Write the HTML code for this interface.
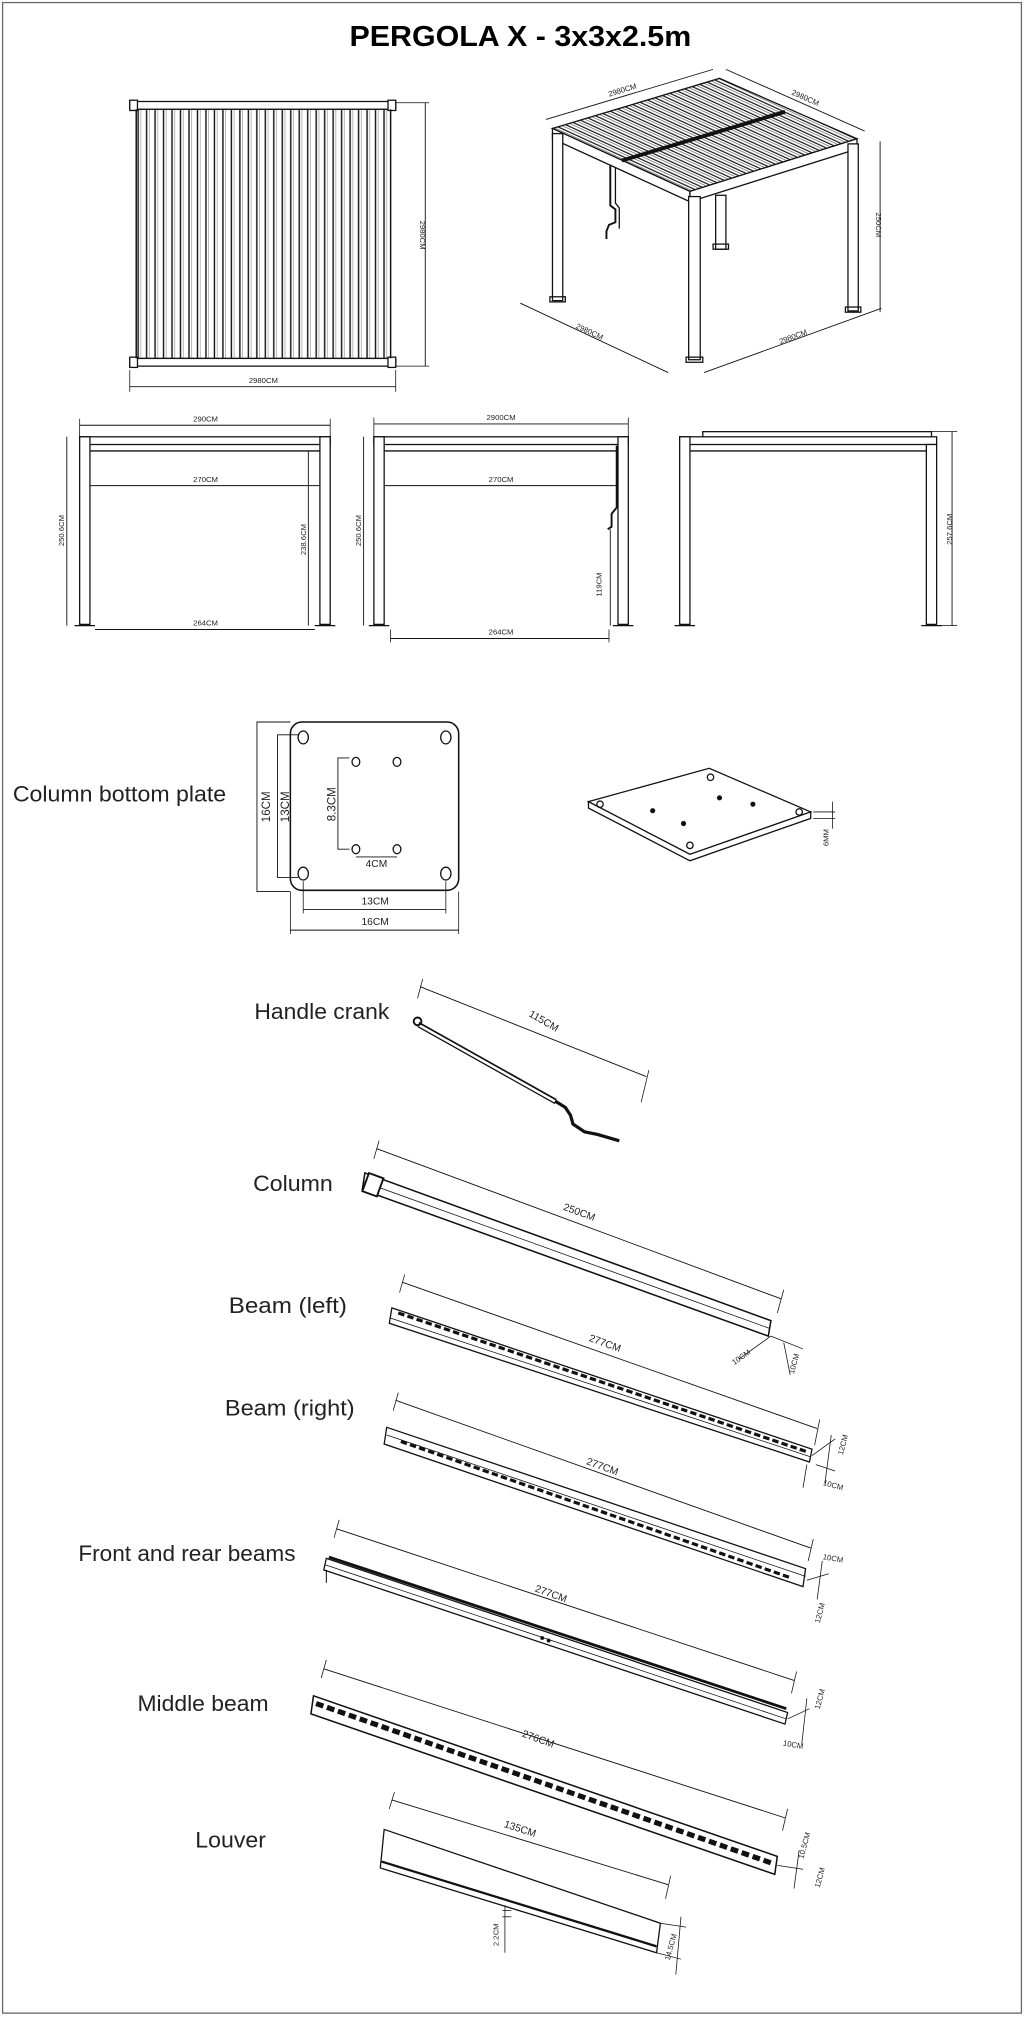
<!DOCTYPE html>
<html><head><meta charset="utf-8"><style>
html,body{margin:0;padding:0;background:#fff}
svg{display:block}
text{font-family:"Liberation Sans",sans-serif}
.d{font-family:"Liberation Serif",serif;font-size:6px}
.lab{font-size:17px;fill:#222}
</style></head><body>
<svg width="1024" height="2017" viewBox="0 0 797 1570" preserveAspectRatio="none" xmlns="http://www.w3.org/2000/svg">
<defs>
<pattern id="vs" x="106" y="0" width="6.6" height="10" patternUnits="userSpaceOnUse"><rect x="0" y="0" width="6.6" height="10" fill="#fff"/><line x1="1.5" y1="0" x2="1.5" y2="10" stroke="#111" stroke-width="1.1"/><line x1="3.6" y1="0" x2="3.6" y2="10" stroke="#777" stroke-width="0.4"/></pattern>
<pattern id="is" width="10" height="4" patternUnits="userSpaceOnUse" patternTransform="rotate(24.6)"><rect width="10" height="4" fill="#fff"/><line x1="0" y1="1" x2="10" y2="1" stroke="#111" stroke-width="0.9"/><line x1="0" y1="2.8" x2="10" y2="2.8" stroke="#555" stroke-width="0.5"/></pattern>
</defs>
<rect x="2" y="2" width="793" height="1565" fill="#fff" stroke="#666" stroke-width="1"/>
<text x="405" y="36" text-anchor="middle" font-size="22" font-weight="bold" fill="#000" textLength="266" lengthAdjust="spacingAndGlyphs">PERGOLA X  - 3x3x2.5m</text>

<g stroke="#111" fill="none" stroke-width="1">
<!-- top plan -->
<rect x="106" y="85" width="198" height="194" fill="url(#vs)"/>
<rect x="101" y="79" width="207" height="6" fill="#fff"/>
<rect x="101" y="279" width="207" height="6" fill="#fff"/>
<rect x="101" y="78" width="6" height="8" fill="#fff"/><rect x="302" y="78" width="6" height="8" fill="#fff"/>
<rect x="101" y="278" width="6" height="8" fill="#fff"/><rect x="302" y="278" width="6" height="8" fill="#fff"/>
<line x1="106" y1="85" x2="106" y2="279"/><line x1="304" y1="85" x2="304" y2="279"/>
<line x1="308" y1="80" x2="334" y2="80" stroke-width="0.6"/><line x1="308" y1="285" x2="334" y2="285" stroke-width="0.6"/>
<line x1="331" y1="80" x2="331" y2="285" stroke-width="0.7"/>
<line x1="101" y1="288" x2="101" y2="305" stroke-width="0.6"/><line x1="308" y1="288" x2="308" y2="305" stroke-width="0.6"/>
<line x1="101" y1="301" x2="308" y2="301" stroke-width="0.7"/>

<!-- iso view -->
<polygon points="430,100 560,61 667,108 537,149" fill="url(#is)"/>
<polygon points="430,100 537,149 537,157 430,108" fill="#fff"/>
<polygon points="537,149 667,108 667,116 537,157" fill="#fff"/>
<line x1="484" y1="125" x2="611" y2="87" stroke-width="3"/>
<rect x="557" y="152" width="8" height="42" fill="#fff"/><rect x="555" y="190" width="12" height="4"/>
<rect x="430" y="104" width="8" height="130" fill="#fff"/><rect x="428" y="231" width="12" height="4"/>
<rect x="660" y="112" width="8" height="130" fill="#fff"/><rect x="658" y="239" width="12" height="4"/>
<rect x="536" y="153" width="9" height="127" fill="#fff"/><rect x="534" y="278" width="13" height="4"/>
<polyline points="475,128 475,160 479,163 479,173 474,175 472,180 472,186" stroke-width="1.5"/>
<polyline points="479,130 479,158 482,162 482,178" stroke-width="1"/>
<line x1="425" y1="93" x2="555" y2="54" stroke-width="0.7"/><line x1="565" y1="54" x2="673" y2="102" stroke-width="0.7"/>
<line x1="685" y1="110" x2="685" y2="243" stroke-width="0.7"/>
<line x1="405" y1="236" x2="520" y2="290" stroke-width="0.7"/><line x1="548" y1="290" x2="686" y2="240" stroke-width="0.7"/>

<!-- elevation 1 -->
<line x1="62" y1="331" x2="257" y2="331" stroke-width="0.7"/>
<line x1="62" y1="326" x2="62" y2="340" stroke-width="0.6"/><line x1="257" y1="326" x2="257" y2="340" stroke-width="0.6"/>
<rect x="62" y="340" width="195" height="6" fill="#fff"/>
<line x1="70" y1="351" x2="249" y2="351"/>
<rect x="62" y="340" width="8" height="146" fill="#fff"/><rect x="249" y="340" width="8" height="146" fill="#fff"/>
<line x1="58" y1="487" x2="74" y2="487"/><line x1="245" y1="487" x2="261" y2="487"/>
<line x1="70" y1="378" x2="249" y2="378" stroke-width="0.7"/>
<line x1="52" y1="340" x2="52" y2="487" stroke-width="0.7"/>
<line x1="240" y1="351" x2="240" y2="487" stroke-width="0.7"/>
<line x1="74" y1="490" x2="245" y2="490" stroke-width="0.7"/>
<!-- elevation 2 -->
<line x1="291" y1="330" x2="489" y2="330" stroke-width="0.7"/>
<line x1="291" y1="325" x2="291" y2="340" stroke-width="0.6"/><line x1="489" y1="325" x2="489" y2="340" stroke-width="0.6"/>
<rect x="291" y="340" width="198" height="6" fill="#fff"/>
<line x1="299" y1="351" x2="481" y2="351"/>
<rect x="291" y="340" width="8" height="146" fill="#fff"/><rect x="481" y="340" width="8" height="146" fill="#fff"/>
<line x1="287" y1="487" x2="303" y2="487"/><line x1="477" y1="487" x2="493" y2="487"/>
<line x1="299" y1="378" x2="481" y2="378" stroke-width="0.7"/>
<line x1="283" y1="340" x2="283" y2="487" stroke-width="0.7"/>
<polyline points="480,347 480,395 476,400 476,410 473,412" stroke-width="1.5"/>
<line x1="475" y1="412" x2="475" y2="487" stroke-width="0.7"/>
<line x1="304" y1="497" x2="474" y2="497" stroke-width="0.7"/>
<line x1="304" y1="490" x2="304" y2="500" stroke-width="0.6"/><line x1="474" y1="490" x2="474" y2="500" stroke-width="0.6"/>
<!-- elevation 3 -->
<rect x="547" y="336" width="178" height="5" fill="#fff"/>
<rect x="529" y="340" width="200" height="6" fill="#fff"/>
<line x1="537" y1="351" x2="721" y2="351"/>
<rect x="529" y="340" width="8" height="146" fill="#fff"/><rect x="721" y="346" width="8" height="140" fill="#fff"/>
<line x1="525" y1="487" x2="541" y2="487"/><line x1="717" y1="487" x2="733" y2="487"/>
<line x1="741" y1="336" x2="741" y2="487" stroke-width="0.7"/>
<line x1="725" y1="336" x2="745" y2="336" stroke-width="0.6"/><line x1="729" y1="487" x2="745" y2="487" stroke-width="0.6"/>

<!-- plate -->
<rect x="226" y="562" width="131" height="131" rx="9" fill="#fff" stroke-width="1.2"/>
<ellipse cx="236" cy="574" rx="4" ry="5"/><ellipse cx="347" cy="574" rx="4" ry="5"/>
<ellipse cx="236" cy="680" rx="4" ry="5"/><ellipse cx="347" cy="680" rx="4" ry="5"/>
<ellipse cx="277" cy="593" rx="3" ry="3.5"/><ellipse cx="309" cy="593" rx="3" ry="3.5"/>
<ellipse cx="277" cy="661" rx="3" ry="3.5"/><ellipse cx="309" cy="661" rx="3" ry="3.5"/>
<polyline points="226,562 200,562 200,694 226,694" stroke-width="0.7"/>
<polyline points="232,572 216,572 216,683 232,683" stroke-width="0.7"/>
<polyline points="272,590 263,590 263,661 272,661" stroke-width="0.7"/>
<line x1="277" y1="667" x2="309" y2="667" stroke-width="0.7"/>
<line x1="236" y1="708" x2="347" y2="708" stroke-width="0.7"/>
<line x1="226" y1="724" x2="357" y2="724" stroke-width="0.7"/>
<line x1="226" y1="694" x2="226" y2="727" stroke-width="0.6"/><line x1="357" y1="694" x2="357" y2="727" stroke-width="0.6"/>
<line x1="236" y1="686" x2="236" y2="711" stroke-width="0.6"/><line x1="347" y1="686" x2="347" y2="711" stroke-width="0.6"/>
<!-- iso plate -->
<polygon points="458,624 552,598 631,632 537,665" fill="#fff"/>
<polygon points="458,624 537,665 631,632 631,637 537,670 458,629" fill="#fff"/>
<circle cx="467" cy="626" r="2.5"/><circle cx="553" cy="605" r="2.5"/><circle cx="622" cy="632" r="2.5"/><circle cx="537" cy="658" r="2.5"/>
<circle cx="508" cy="631" r="1.5" fill="#111"/><circle cx="532" cy="641" r="1.5" fill="#111"/><circle cx="560" cy="621" r="1.5" fill="#111"/><circle cx="586" cy="626" r="1.5" fill="#111"/>
<line x1="633" y1="632" x2="650" y2="632" stroke-width="0.6"/><line x1="633" y1="637" x2="650" y2="637" stroke-width="0.6"/>
<line x1="648" y1="624" x2="648" y2="645" stroke-width="0.6"/>

<!-- handle crank -->
<circle cx="325" cy="795" r="3" stroke-width="1.5"/>
<line x1="326" y1="796" x2="433" y2="856" stroke-width="1.3"/>
<line x1="325" y1="799" x2="432" y2="859" stroke-width="1"/>
<polyline points="432,857 440,862 444,868 446,875 455,881 465,883 482,888" stroke-width="2.5"/>
<line x1="327" y1="768" x2="503" y2="838" stroke-width="0.7"/>
<line x1="329" y1="762" x2="325" y2="777" stroke-width="0.6"/><line x1="505" y1="833" x2="499" y2="858" stroke-width="0.6"/>

<!-- column -->
<polygon points="284,913 600,1028 598,1040 282,926" fill="#fff" stroke-width="1.2"/>
<line x1="283" y1="920" x2="599" y2="1034" stroke-width="0.6"/>
<rect x="284" y="915" width="12" height="15" fill="#fff" stroke-width="1.5" transform="rotate(20 291 923)"/>
<line x1="293" y1="894" x2="608" y2="1011" stroke-width="0.7"/>
<line x1="295" y1="888" x2="291" y2="902" stroke-width="0.6"/><line x1="610" y1="1004" x2="605" y2="1022" stroke-width="0.6"/>
<line x1="600" y1="1040" x2="575" y2="1058" stroke-width="0.6"/><line x1="600" y1="1040" x2="625" y2="1050" stroke-width="0.6"/>
<line x1="610" y1="1045" x2="615" y2="1070" stroke-width="0.6"/>

<!-- beam left -->
<polygon points="305,1018 632,1128 630,1138 303,1030" fill="#fff"/>
<line x1="310" y1="1022" x2="628" y2="1130" stroke-width="2.5" stroke-dasharray="5 2.5"/>
<line x1="304" y1="1026" x2="631" y2="1134" stroke-width="0.6"/>
<line x1="313" y1="998" x2="636" y2="1112" stroke-width="0.7"/>
<line x1="315" y1="992" x2="311" y2="1006" stroke-width="0.6"/><line x1="638" y1="1105" x2="634" y2="1125" stroke-width="0.6"/>
<line x1="632" y1="1133" x2="650" y2="1120" stroke-width="0.6"/><line x1="635" y1="1140" x2="650" y2="1145" stroke-width="0.6"/>
<line x1="647" y1="1117" x2="642" y2="1155" stroke-width="0.6"/><line x1="628" y1="1140" x2="625" y2="1158" stroke-width="0.6"/>

<!-- beam right -->
<polygon points="301,1111 627,1221 625,1235 299,1124" fill="#fff"/>
<line x1="301" y1="1117" x2="627" y2="1227" stroke-width="0.6"/>
<line x1="312" y1="1122" x2="615" y2="1228" stroke-width="2.5" stroke-dasharray="5 2.5"/>
<line x1="308" y1="1090" x2="631" y2="1205" stroke-width="0.7"/>
<line x1="310" y1="1084" x2="306" y2="1098" stroke-width="0.6"/><line x1="633" y1="1198" x2="629" y2="1215" stroke-width="0.6"/>
<line x1="628" y1="1230" x2="645" y2="1225" stroke-width="0.6"/><line x1="640" y1="1215" x2="636" y2="1245" stroke-width="0.6"/>

<!-- front and rear -->
<polygon points="254,1213 613,1333 611,1342 252,1222" fill="#fff"/>
<line x1="256" y1="1212" x2="612" y2="1330" stroke-width="2.2"/>
<line x1="253" y1="1218" x2="612" y2="1338" stroke-width="0.6"/>
<line x1="254" y1="1222" x2="254" y2="1232" stroke-width="0.8"/>
<circle cx="422" cy="1275" r="1" fill="#111"/><circle cx="427" cy="1277" r="1" fill="#111"/>
<line x1="262" y1="1190" x2="618" y2="1308" stroke-width="0.7"/>
<line x1="264" y1="1183" x2="260" y2="1197" stroke-width="0.6"/><line x1="620" y1="1301" x2="616" y2="1318" stroke-width="0.6"/>
<line x1="613" y1="1338" x2="630" y2="1330" stroke-width="0.6"/><line x1="628" y1="1322" x2="624" y2="1358" stroke-width="0.6"/>

<!-- middle beam -->
<polygon points="244,1320 605,1445 603,1459 242,1334" fill="#fff" stroke-width="1.2"/>
<line x1="246" y1="1326" x2="600" y2="1450" stroke-width="4" stroke-dasharray="6 3"/>
<line x1="252" y1="1299" x2="611" y2="1415" stroke-width="0.7"/>
<line x1="254" y1="1292" x2="250" y2="1306" stroke-width="0.6"/><line x1="613" y1="1408" x2="609" y2="1425" stroke-width="0.6"/>
<line x1="605" y1="1452" x2="625" y2="1455" stroke-width="0.6"/><line x1="622" y1="1440" x2="618" y2="1470" stroke-width="0.6"/>

<!-- louver -->
<polygon points="299,1424 514,1497 511,1520 296,1454" fill="#fff"/>
<line x1="297" y1="1449" x2="511" y2="1515" stroke-width="1.8"/>
<line x1="305" y1="1401" x2="520" y2="1467" stroke-width="0.7"/>
<line x1="307" y1="1395" x2="303" y2="1408" stroke-width="0.6"/><line x1="522" y1="1460" x2="518" y2="1478" stroke-width="0.6"/>
<line x1="514" y1="1497" x2="534" y2="1500" stroke-width="0.6"/><line x1="511" y1="1520" x2="530" y2="1525" stroke-width="0.6"/>
<line x1="530" y1="1492" x2="526" y2="1537" stroke-width="0.6"/>
<line x1="391" y1="1487" x2="398" y2="1487" stroke-width="0.6"/><line x1="391" y1="1492" x2="398" y2="1492" stroke-width="0.6"/>
<line x1="393" y1="1483" x2="393" y2="1520" stroke-width="0.6"/>
</g>

<g class="d" fill="#222">
<text transform="translate(327 183) rotate(90)" text-anchor="middle">2980CM</text>
<text x="205" y="298" text-anchor="middle">2980CM</text>
<text transform="translate(485 72) rotate(-17)" text-anchor="middle">2980CM</text>
<text transform="translate(626 78) rotate(24)" text-anchor="middle">2980CM</text>
<text transform="translate(682 175) rotate(90)" text-anchor="middle">250CM</text>
<text transform="translate(458 260) rotate(25)" text-anchor="middle">2980CM</text>
<text transform="translate(618 264) rotate(-20)" text-anchor="middle">2980CM</text>
<text x="160" y="328" text-anchor="middle">290CM</text>
<text x="160" y="375" text-anchor="middle">270CM</text>
<text x="160" y="487" text-anchor="middle">264CM</text>
<text transform="translate(50 413) rotate(-90)" text-anchor="middle">250.6CM</text>
<text transform="translate(238 420) rotate(-90)" text-anchor="middle">238.6CM</text>
<text x="390" y="327" text-anchor="middle">2900CM</text>
<text x="390" y="375" text-anchor="middle">270CM</text>
<text x="390" y="494" text-anchor="middle">264CM</text>
<text transform="translate(281 413) rotate(-90)" text-anchor="middle">250.6CM</text>
<text transform="translate(468 455) rotate(-90)" text-anchor="middle">119CM</text>
<text transform="translate(741 412) rotate(-90)" text-anchor="middle">257.6CM</text>
<text transform="translate(210 628) rotate(-90)" text-anchor="middle" font-size="9">16CM</text>
<text transform="translate(225 628) rotate(-90)" text-anchor="middle" font-size="9">13CM</text>
<text transform="translate(261 626) rotate(-90)" text-anchor="middle" font-size="9">8.3CM</text>
<text x="293" y="675" text-anchor="middle" font-size="8">4CM</text>
<text x="292" y="704" text-anchor="middle" font-size="8">13CM</text>
<text x="292" y="720" text-anchor="middle" font-size="8">16CM</text>
<text transform="translate(645 652) rotate(-90)" text-anchor="middle">6MM</text>
<text transform="translate(422 797) rotate(30)" text-anchor="middle" font-size="8">115CM</text>
<text transform="translate(450 946) rotate(20)" text-anchor="middle" font-size="8">250CM</text>
<text transform="translate(578 1058) rotate(-35)" text-anchor="middle">10CM</text>
<text transform="translate(620 1062) rotate(-75)" text-anchor="middle">10CM</text>
<text transform="translate(470 1048) rotate(20)" text-anchor="middle" font-size="8">277CM</text>
<text transform="translate(658 1125) rotate(-75)" text-anchor="middle">12CM</text>
<text transform="translate(648 1158) rotate(15)" text-anchor="middle">10CM</text>
<text transform="translate(468 1144) rotate(20)" text-anchor="middle" font-size="8">277CM</text>
<text transform="translate(648 1215) rotate(10)" text-anchor="middle">10CM</text>
<text transform="translate(640 1256) rotate(-75)" text-anchor="middle">12CM</text>
<text transform="translate(428 1243) rotate(20)" text-anchor="middle" font-size="8">277CM</text>
<text transform="translate(640 1323) rotate(-75)" text-anchor="middle">12CM</text>
<text transform="translate(617 1360) rotate(10)" text-anchor="middle">10CM</text>
<text transform="translate(418 1356) rotate(20)" text-anchor="middle" font-size="8">276CM</text>
<text transform="translate(628 1437) rotate(-75)" text-anchor="middle">10.5CM</text>
<text transform="translate(640 1462) rotate(-75)" text-anchor="middle">12CM</text>
<text transform="translate(404 1426) rotate(18)" text-anchor="middle" font-size="8">135CM</text>
<text transform="translate(388 1506) rotate(-90)" text-anchor="middle">2.2CM</text>
<text transform="translate(524 1516) rotate(-75)" text-anchor="middle">14.5CM</text>
</g>

<g class="lab">
<text x="10" y="624" textLength="166" lengthAdjust="spacingAndGlyphs">Column bottom plate</text>
<text x="198" y="793" textLength="105" lengthAdjust="spacingAndGlyphs">Handle crank</text>
<text x="197" y="927" textLength="62" lengthAdjust="spacingAndGlyphs">Column</text>
<text x="178" y="1022" textLength="92" lengthAdjust="spacingAndGlyphs">Beam (left)</text>
<text x="175" y="1102" textLength="101" lengthAdjust="spacingAndGlyphs">Beam (right)</text>
<text x="61" y="1215" textLength="169" lengthAdjust="spacingAndGlyphs">Front and rear beams</text>
<text x="107" y="1332" textLength="102" lengthAdjust="spacingAndGlyphs">Middle beam</text>
<text x="152" y="1438" textLength="55" lengthAdjust="spacingAndGlyphs">Louver</text>
</g>
</svg>
</body></html>
